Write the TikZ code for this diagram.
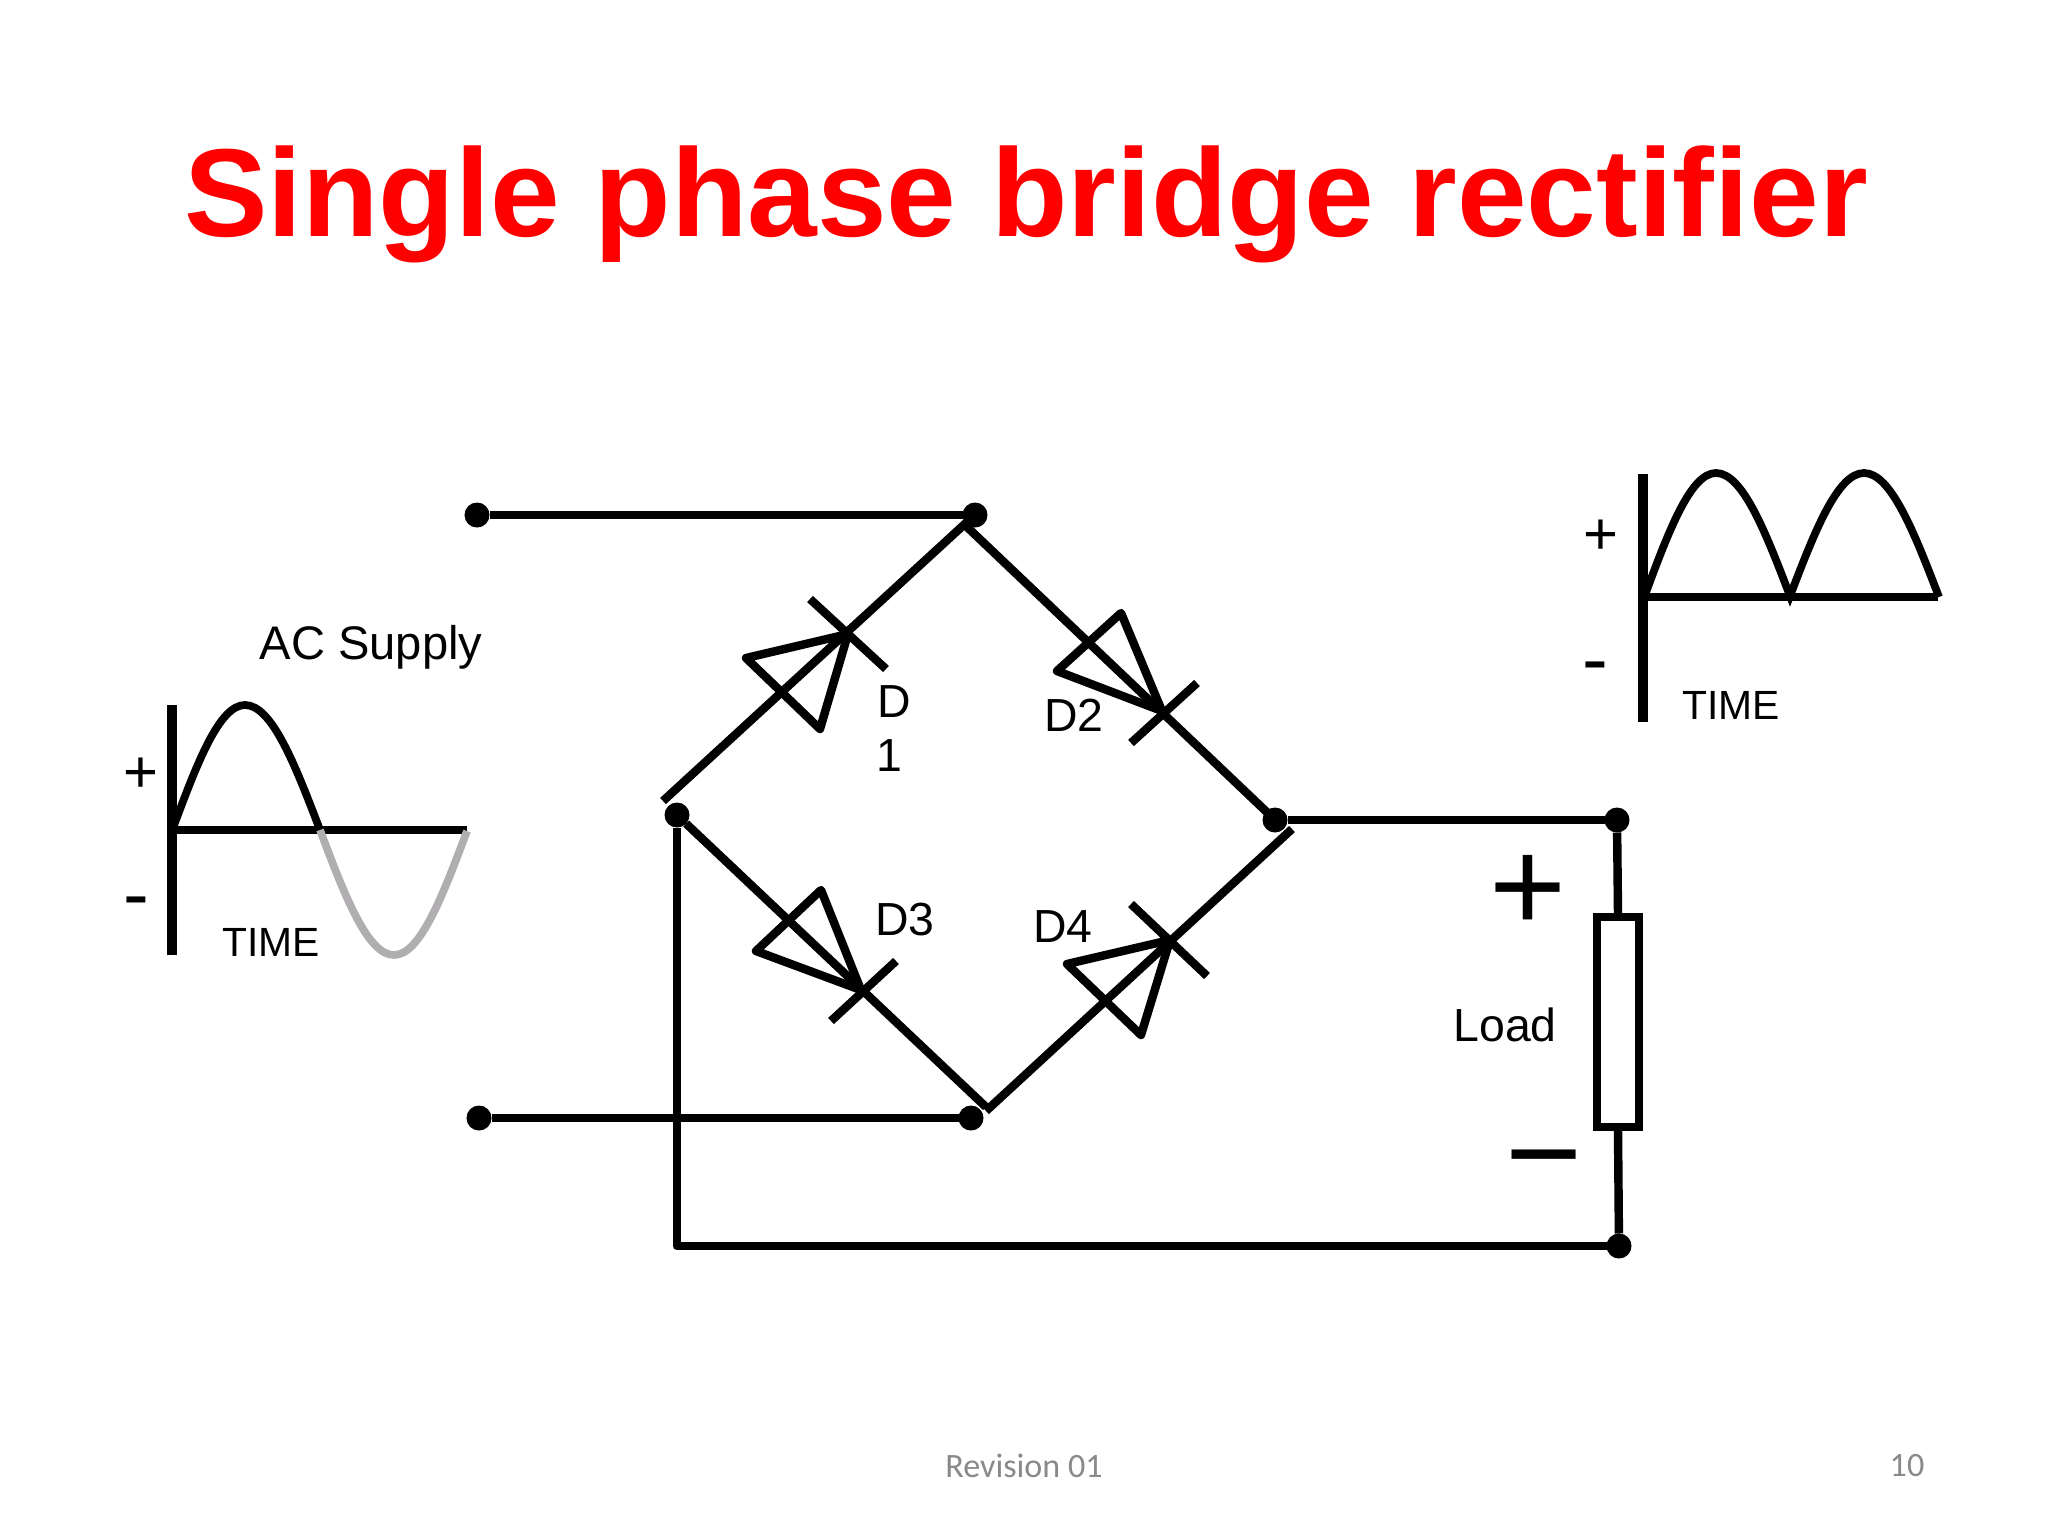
\documentclass[tikz,border=0pt]{standalone}
\usepackage{xcolor}
\usepackage{fontspec}
\setmainfont{Liberation Sans}
\newfontfamily\footfont{Carlito}
\usepackage{tikz}
\usetikzlibrary{positioning}
\definecolor{titlered}{RGB}{255,0,0}
\definecolor{wavegray}{RGB}{176,174,176}
\definecolor{footgray}{RGB}{137,137,137}
\tikzstyle{wire} = [line width=2.4pt,line join=round]
\tikzstyle{axis} = [line width=2.6pt]
\tikzstyle{wave} = [line width=2.2pt]
\tikzstyle{dot} = [circle,fill=black,minimum size=0.25cm,inner sep=0pt,outer sep=0pt]
\tikzstyle{lbl} = [anchor=base,inner sep=0pt,font=\fontsize{13.2}{15}\selectfont]
\tikzstyle{timelbl} = [anchor=base,inner sep=0pt,font=\fontsize{11.6}{14}\selectfont]
\tikzstyle{signlbl} = [inner sep=0pt,font=\fontsize{17}{20}\selectfont]
\tikzstyle{bigsign} = [inner sep=0pt,font=\fontsize{37.5}{40}\selectfont]
\tikzstyle{footlbl} = [inner sep=0pt,text=footgray,font=\footfont\fontsize{9.7}{11}\selectfont]

\begin{document}
\begin{tikzpicture}[x=0.01cm,y=-0.01cm]
    \useasboundingbox (0,0) rectangle (2048,1536);

    \node[anchor=base,inner sep=0pt,text=titlered,font=\bfseries\fontsize{35.6}{40}\selectfont] (title) at (1026,236) {Single phase bridge rectifier};

    \node[dot] (in1) at (477,515) {};
    \node[dot] (in2) at (479,1118) {};
    \node[dot] (top) at (975,515) {};
    \node[dot] (bot) at (971,1118) {};
    \node[dot] (lft) at (677,815) {};
    \node[dot] (rgt) at (1275,820) {};
    \node[dot] (ld1) at (1617,820) {};
    \node[dot] (ld2) at (1619,1246) {};
    \node[draw,line width=2.3pt,minimum width=0.42cm,minimum height=2.09cm,inner sep=0pt] (load) at (1618,1022) {};

    \coordinate (c1) at (663,801);
    \coordinate (c2) at (967,522);
    \coordinate (c3) at (966,526);
    \coordinate (c4) at (1272,817);
    \coordinate (c5) at (986,1107);
    \coordinate (c6) at (986,1111);
    \coordinate (c7) at (1292,829);
    \coordinate (bl) at (677,1246);

    \draw [wire] (in1) -- (top);
    \draw [wire] (in2) -- (bot);
    \draw [wire] (c1) -- (c2);
    \draw [wire] (c3) -- (c4);
    \draw [wire] (lft) -- (c5);
    \draw [wire] (c6) -- (c7);
    \draw [wire] (lft) -- (bl) -- (ld2);
    \draw [wire] (rgt) -- (ld1);
    \draw [wire] (ld1) -- (load.north);
    \draw [wire] (load.south) -- (ld2);

    \coordinate (d1a) at (810,599);
    \coordinate (d1b) at (886,669);
    \coordinate (d1t) at (848,634);
    \coordinate (d1c) at (746,658);
    \coordinate (d1d) at (820,729);
    \draw [wire] (d1a) -- (d1b);
    \draw [wire] (d1t) -- (d1c) -- (d1d) -- cycle;

    \coordinate (d2a) at (1197,683);
    \coordinate (d2b) at (1131,743);
    \coordinate (d2t) at (1162,711);
    \coordinate (d2c) at (1121,613);
    \coordinate (d2d) at (1057,671);
    \draw [wire] (d2a) -- (d2b);
    \draw [wire] (d2t) -- (d2c) -- (d2d) -- cycle;

    \coordinate (d3a) at (896,961);
    \coordinate (d3b) at (831,1021);
    \coordinate (d3t) at (861,990);
    \coordinate (d3c) at (821,890);
    \coordinate (d3d) at (756,951);
    \draw [wire] (d3a) -- (d3b);
    \draw [wire] (d3t) -- (d3c) -- (d3d) -- cycle;

    \coordinate (d4a) at (1131,904);
    \coordinate (d4b) at (1207,976);
    \coordinate (d4t) at (1170,940);
    \coordinate (d4c) at (1067,964);
    \coordinate (d4d) at (1141,1035);
    \draw [wire] (d4a) -- (d4b);
    \draw [wire] (d4t) -- (d4c) -- (d4d) -- cycle;

    \node[lbl] (d1top) at (894,717) {D};
    \node[lbl] (d1low) at (889,771) {1};
    \node[lbl] (d2lbl) at (1074,731) {D2};
    \node[lbl] (d3lbl) at (905,935) {D3};
    \node[lbl] (d4lbl) at (1063,942) {D4};
    \node[lbl] (loadlbl) at (1505,1041) {Load};
    \node[bigsign] (loadp) at (1528,893) {+};
    \node[bigsign] (loadm) at (1544,1174) {−};

    \node[lbl,font=\fontsize{13.4}{16}\selectfont] (aclbl) at (371,659) {AC Supply};
    \coordinate (a1) at (172,705);
    \coordinate (a2) at (172,955);
    \coordinate (a3) at (172,830);
    \coordinate (a4) at (467,830);
    \coordinate (a5) at (173,828);
    \coordinate (a6) at (245,705);
    \coordinate (a7) at (320,830);
    \coordinate (a8) at (394,955);
    \coordinate (a9) at (467,831);
    \draw [axis] (a1) -- (a2);
    \draw [line width=2.3pt] (a3) -- (a4);
    \draw [wave] (a5) sin (a6) cos (a7);
    \draw [wave,wavegray] (a7) sin (a8) cos (a9);
    \node[signlbl] (acp) at (141,775) {+};
    \node[signlbl,font=\fontsize{22}{24}\selectfont] (acm) at (136,909) {-};
    \node[timelbl] (actime) at (271,956) {TIME};

    \coordinate (b1) at (1643,474);
    \coordinate (b2) at (1643,722);
    \coordinate (b3) at (1643,597);
    \coordinate (b4) at (1938,597);
    \coordinate (b5) at (1645,595);
    \coordinate (b6) at (1716,473);
    \coordinate (b7) at (1790,596);
    \coordinate (b8) at (1864,473);
    \coordinate (b9) at (1939,597);
    \draw [axis] (b1) -- (b2);
    \draw [line width=2.3pt] (b3) -- (b4);
    \draw [wave] (b5) sin (b6) cos (b7) sin (b8) cos (b9);
    \node[signlbl] (dcp) at (1601,537) {+};
    \node[signlbl,font=\fontsize{22}{24}\selectfont] (dcm) at (1595,674) {-};
    \node[timelbl] (dctime) at (1731,719) {TIME};

    \node[footlbl] (rev) at (1024,1466) {Revision 01};
    \node[footlbl] (pagenum) at (1907,1466) {10};
\end{tikzpicture}
\end{document}
